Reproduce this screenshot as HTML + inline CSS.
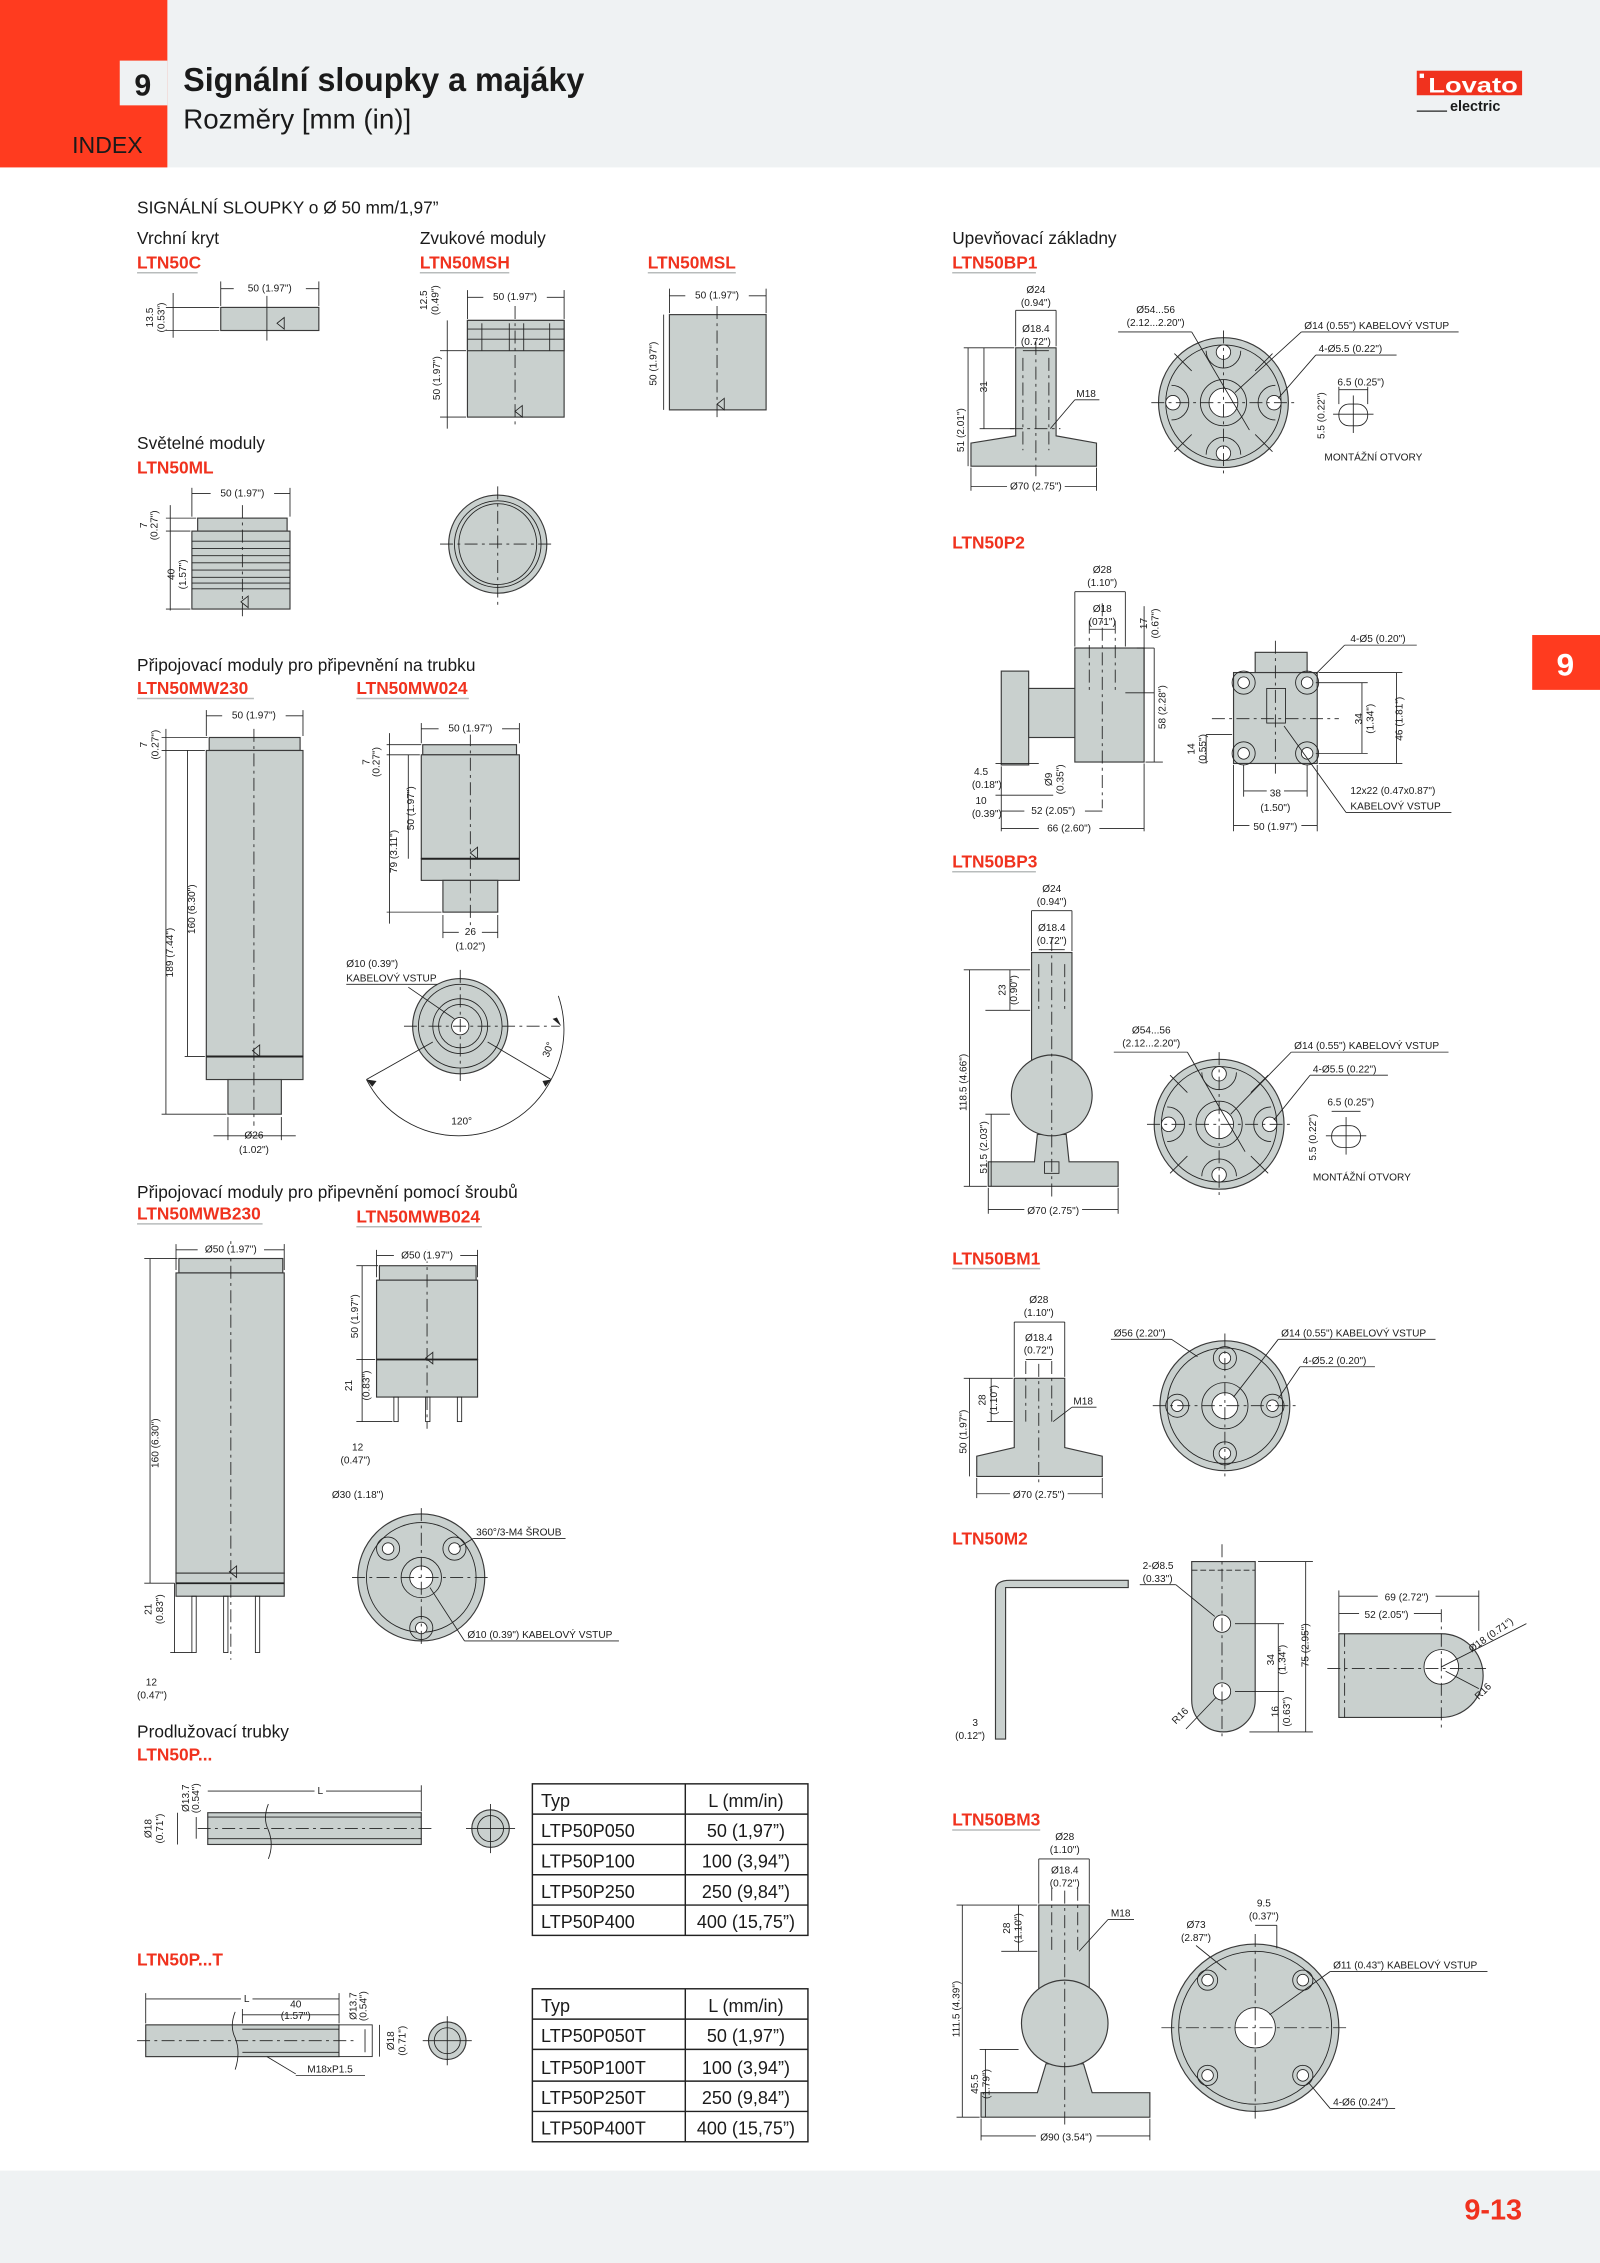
<!DOCTYPE html>
<html><head><meta charset="utf-8">
<style>
html,body{margin:0;padding:0;background:#fff;}
svg{display:block;}
text{font-family:"Liberation Sans Narrow","Liberation Sans",sans-serif;fill:#1a1a1a;}
.d{font-size:7px;}
.l{font-size:12px;}
.r{font-size:12px;font-weight:bold;fill:#f0321e;}
.g{fill:#c9d0ce;stroke:#3a3a3a;stroke-width:0.8;}
.s{stroke:#222;stroke-width:0.6;fill:none;}
.c{stroke:#222;stroke-width:0.6;fill:none;stroke-dasharray:9 3 2 3;}
.u{stroke:#b8bcbc;stroke-width:1;}
.t{font-size:12.5px;}
</style></head><body>
<svg width="1600" height="2263" viewBox="0 0 1109 1568" preserveAspectRatio="none" xmlns="http://www.w3.org/2000/svg">
<!-- header -->
<rect x="0" y="0" width="1109" height="116" fill="#eff2f3"/>
<rect x="0" y="0" width="116" height="116" fill="#ff3b1f"/>
<rect x="83" y="42" width="33" height="31" fill="#eff2f3"/>
<text x="99" y="66" text-anchor="middle" style="font-size:21px;font-weight:bold">9</text>
<text x="127" y="63" textLength="278" lengthAdjust="spacingAndGlyphs" style="font-size:23px;font-weight:bold">Signální sloupky a majáky</text>
<text x="127" y="89" textLength="158" lengthAdjust="spacingAndGlyphs" style="font-size:19px">Rozměry [mm (in)]</text>
<text x="50" y="106" style="font-size:16px">INDEX</text>
<rect x="982" y="49" width="73" height="17" fill="#f0321e"/>
<rect x="984" y="51" width="3" height="3" fill="#fff"/>
<text x="990" y="64" textLength="62" lengthAdjust="spacingAndGlyphs" style="font-size:15px;font-weight:bold;fill:#fff">Lovato</text>
<line x1="982" y1="77" x2="1003" y2="77" stroke="#222" stroke-width="0.8"/>
<text x="1005" y="77" style="font-size:10px;font-weight:bold">electric</text>
<!-- side tab -->
<rect x="1062" y="440" width="47" height="38" fill="#ff3b1f"/>
<text x="1085" y="468" text-anchor="middle" style="font-size:22px;font-weight:bold;fill:#fff">9</text>
<!-- footer -->
<rect x="0" y="1504" width="1109" height="64" fill="#eff2f3"/>
<text x="1055" y="1538" text-anchor="end" style="font-size:20px;font-weight:bold;fill:#f0321e">9-13</text>

<!-- LEFT COLUMN TITLES -->
<text class="l" x="95" y="148">SIGNÁLNÍ SLOUPKY o Ø 50 mm/1,97”</text>
<text class="l" x="95" y="169">Vrchní kryt</text>
<text class="r" x="95" y="186">LTN50C</text><line class="u" x1="95" y1="189" x2="137" y2="189"/>
<text class="l" x="291" y="169">Zvukové moduly</text>
<text class="r" x="291" y="186">LTN50MSH</text><line class="u" x1="291" y1="189" x2="353" y2="189"/>
<text class="r" x="449" y="186">LTN50MSL</text><line class="u" x1="449" y1="189" x2="510" y2="189"/>

<!-- LTN50C -->
<rect class="g" x="153" y="213" width="68" height="16"/>
<line class="s" x1="153" y1="200" x2="221" y2="200"/><line class="s" x1="153" y1="195" x2="153" y2="212"/><line class="s" x1="221" y1="195" x2="221" y2="212"/>
<rect x="162" y="196" width="50" height="8" fill="#fff"/><text class="d" x="187" y="202" text-anchor="middle">50 (1.97")</text>
<line class="s" x1="185" y1="205" x2="185" y2="236"/>
<line class="s" x1="120" y1="203" x2="120" y2="234"/><line class="s" x1="115" y1="213" x2="152" y2="213"/><line class="s" x1="115" y1="229" x2="152" y2="229"/>
<text class="d" transform="translate(106,220) rotate(-90)" text-anchor="middle">13.5</text>
<text class="d" transform="translate(114,220) rotate(-90)" text-anchor="middle">(0.53")</text>
<path class="s" d="M197 220 l-5 4 l5 4z"/>

<!-- LTN50MSH -->
<rect class="g" x="324" y="222" width="67" height="67"/>
<rect class="g" x="324" y="222" width="67" height="21"/>
<line class="s" x1="324" y1="228" x2="391" y2="228"/><line class="s" x1="324" y1="235" x2="391" y2="235"/>
<line class="s" x1="334" y1="224" x2="334" y2="243"/><line class="s" x1="353" y1="224" x2="353" y2="243"/><line class="s" x1="363" y1="224" x2="363" y2="243"/><line class="s" x1="381" y1="224" x2="381" y2="243"/>
<line class="c" x1="357" y1="212" x2="357" y2="297"/>
<line class="s" x1="324" y1="206" x2="391" y2="206"/><line class="s" x1="324" y1="201" x2="324" y2="221"/><line class="s" x1="391" y1="201" x2="391" y2="221"/>
<rect x="335" y="202" width="44" height="8" fill="#fff"/><text class="d" x="357" y="208" text-anchor="middle">50 (1.97")</text>
<line class="s" x1="310" y1="222" x2="310" y2="297"/><line class="s" x1="305" y1="243" x2="323" y2="243"/><line class="s" x1="305" y1="289" x2="323" y2="289"/>
<text class="d" transform="translate(296,208) rotate(-90)" text-anchor="middle">12.5</text><text class="d" transform="translate(304,208) rotate(-90)" text-anchor="middle">(0.49")</text>
<text class="d" transform="translate(305,262) rotate(-90)" text-anchor="middle">50 (1.97")</text>
<path class="s" d="M362 281 l-5 4 l5 4z"/>
<!-- LTN50MSL -->
<rect class="g" x="464" y="218" width="67" height="66"/>
<line class="c" x1="497" y1="212" x2="497" y2="292"/>
<line class="s" x1="464" y1="205" x2="531" y2="205"/><line class="s" x1="464" y1="200" x2="464" y2="217"/><line class="s" x1="531" y1="200" x2="531" y2="217"/>
<rect x="475" y="201" width="44" height="8" fill="#fff"/><text class="d" x="497" y="207" text-anchor="middle">50 (1.97")</text>
<line class="s" x1="460" y1="218" x2="460" y2="284"/>
<text class="d" transform="translate(455,252) rotate(-90)" text-anchor="middle">50 (1.97")</text>
<path class="s" d="M502 276 l-5 4 l5 4z"/>

<!-- LTN50ML -->
<text class="l" x="95" y="311">Světelné moduly</text>
<text class="r" x="95" y="328">LTN50ML</text>
<rect class="g" x="137" y="359" width="62" height="9"/>
<rect class="g" x="133" y="368" width="68" height="54"/>
<g class="s"><line x1="133" y1="375" x2="201" y2="375"/><line x1="133" y1="380" x2="201" y2="380"/><line x1="133" y1="385" x2="201" y2="385"/><line x1="133" y1="390" x2="201" y2="390"/><line x1="133" y1="395" x2="201" y2="395"/><line x1="133" y1="400" x2="201" y2="400"/><line x1="133" y1="404" x2="201" y2="404"/><line x1="133" y1="408" x2="201" y2="408"/></g>
<line class="c" x1="168" y1="350" x2="168" y2="430"/>
<line class="s" x1="133" y1="342" x2="201" y2="342"/><line class="s" x1="133" y1="338" x2="133" y2="358"/><line class="s" x1="201" y1="338" x2="201" y2="358"/>
<rect x="146" y="338" width="44" height="8" fill="#fff"/><text class="d" x="168" y="344" text-anchor="middle">50 (1.97")</text>
<line class="s" x1="118" y1="350" x2="118" y2="423"/><line class="s" x1="115" y1="359" x2="136" y2="359"/><line class="s" x1="115" y1="368" x2="132" y2="368"/><line class="s" x1="115" y1="422" x2="132" y2="422"/>
<text class="d" transform="translate(102,364) rotate(-90)" text-anchor="middle">7</text><text class="d" transform="translate(109,364) rotate(-90)" text-anchor="middle">(0.27")</text>
<text class="d" transform="translate(121,398) rotate(-90)" text-anchor="middle">40</text><text class="d" transform="translate(129,398) rotate(-90)" text-anchor="middle">(1.57")</text>
<path class="s" d="M172 413 l-5 4 l5 4z"/>
<ellipse class="g" cx="345" cy="377" rx="34" ry="34"/><ellipse class="s" cx="345" cy="377" rx="30" ry="30"/><ellipse class="s" cx="345" cy="377" rx="27" ry="28"/>
<line class="c" x1="345" y1="337" x2="345" y2="420"/><line class="c" x1="305" y1="377" x2="385" y2="377"/>

<!-- MW -->
<text class="l" x="95" y="465">Připojovací moduly pro připevnění na trubku</text>
<text class="r" x="95" y="481">LTN50MW230</text><line class="u" x1="95" y1="484" x2="176" y2="484"/>
<text class="r" x="247" y="481">LTN50MW024</text><line class="u" x1="247" y1="484" x2="325" y2="484"/>
<rect class="g" x="145" y="511" width="63" height="9"/>
<rect class="g" x="143" y="520" width="67" height="212"/>
<rect class="g" x="143" y="732" width="67" height="16"/>
<line x1="143" y1="732" x2="210" y2="732" stroke="#222" stroke-width="1.4"/>
<rect class="g" x="158" y="748" width="37" height="24"/>
<line class="c" x1="176" y1="505" x2="176" y2="780"/>
<path class="s" d="M180 724 l-5 4 l5 4z"/>
<line class="s" x1="143" y1="496" x2="210" y2="496"/><line class="s" x1="143" y1="492" x2="143" y2="510"/><line class="s" x1="210" y1="492" x2="210" y2="510"/>
<rect x="154" y="492" width="44" height="8" fill="#fff"/><text class="d" x="176" y="498" text-anchor="middle">50 (1.97")</text>
<line class="s" x1="115" y1="505" x2="115" y2="772"/><line class="s" x1="130" y1="520" x2="130" y2="732"/>
<line class="s" x1="112" y1="511" x2="144" y2="511"/><line class="s" x1="112" y1="520" x2="142" y2="520"/><line class="s" x1="112" y1="772" x2="157" y2="772"/><line class="s" x1="128" y1="732" x2="142" y2="732"/>
<text class="d" transform="translate(102,516) rotate(-90)" text-anchor="middle">7</text><text class="d" transform="translate(110,516) rotate(-90)" text-anchor="middle">(0.27")</text>
<text class="d" transform="translate(120,660) rotate(-90)" text-anchor="middle">189 (7.44")</text>
<text class="d" transform="translate(135,630) rotate(-90)" text-anchor="middle">160 (6.30")</text>
<line class="s" x1="158" y1="774" x2="158" y2="790"/><line class="s" x1="195" y1="774" x2="195" y2="790"/><line class="s" x1="148" y1="787" x2="205" y2="787"/>
<text class="d" x="176" y="789" text-anchor="middle">Ø26</text><text class="d" x="176" y="799" text-anchor="middle">(1.02")</text>

<rect class="g" x="293" y="516" width="65" height="7"/>
<rect class="g" x="292" y="523" width="68" height="72"/>
<rect class="g" x="292" y="595" width="68" height="15"/>
<line x1="292" y1="595" x2="360" y2="595" stroke="#222" stroke-width="1.4"/>
<rect class="g" x="307" y="610" width="38" height="22"/>
<line class="c" x1="326" y1="508" x2="326" y2="642"/>
<path class="s" d="M331 587 l-5 4 l5 4z"/>
<line class="s" x1="292" y1="505" x2="360" y2="505"/><line class="s" x1="292" y1="501" x2="292" y2="515"/><line class="s" x1="360" y1="501" x2="360" y2="515"/>
<rect x="304" y="501" width="44" height="8" fill="#fff"/><text class="d" x="326" y="507" text-anchor="middle">50 (1.97")</text>
<line class="s" x1="270" y1="508" x2="270" y2="640"/><line class="s" x1="283" y1="523" x2="283" y2="595"/>
<line class="s" x1="268" y1="516" x2="292" y2="516"/><line class="s" x1="268" y1="523" x2="291" y2="523"/><line class="s" x1="268" y1="632" x2="306" y2="632"/>
<text class="d" transform="translate(256,528) rotate(-90)" text-anchor="middle">7</text><text class="d" transform="translate(263,528) rotate(-90)" text-anchor="middle">(0.27")</text>
<text class="d" transform="translate(287,560) rotate(-90)" text-anchor="middle">50 (1.97")</text>
<text class="d" transform="translate(275,590) rotate(-90)" text-anchor="middle">79 (3.11")</text>
<line class="s" x1="307" y1="634" x2="307" y2="650"/><line class="s" x1="345" y1="634" x2="345" y2="650"/><line class="s" x1="307" y1="646" x2="345" y2="646"/>
<rect x="318" y="642" width="16" height="8" fill="#fff"/><text class="d" x="326" y="648" text-anchor="middle">26</text><text class="d" x="326" y="658" text-anchor="middle">(1.02")</text>
<circle class="g" cx="319" cy="711" r="33" stroke-width="1.5"/><circle class="s" cx="319" cy="711" r="29"/><circle class="s" cx="319" cy="711" r="19"/><circle class="s" cx="319" cy="711" r="15"/><circle cx="319" cy="711" r="6" fill="#fff" stroke="#222" stroke-width="0.6"/>
<line class="c" x1="319" y1="672" x2="319" y2="752"/><line class="c" x1="280" y1="711" x2="388" y2="711"/>
<path class="s" d="M254 748 A 72 72 0 0 0 382 748"/><path class="s" d="M382 748 A 72 72 0 0 0 387 690"/>
<path d="M254 748 l7 1 l-3 4z M382 748 l-6 1 l2 4z M389 711 l-3 -6 l-3 1z" fill="#222"/>
<line class="s" x1="300" y1="722" x2="254" y2="748"/><line class="s" x1="338" y1="722" x2="382" y2="748"/>
<text class="d" x="320" y="779" text-anchor="middle">120°</text>
<text class="d" transform="translate(382,728) rotate(-70)" text-anchor="middle">30°</text>
<text class="d" x="240" y="670">Ø10 (0.39")</text><text class="d" x="240" y="680">KABELOVÝ VSTUP</text>
<line class="s" x1="240" y1="682" x2="303" y2="682"/><line class="s" x1="283" y1="684" x2="315" y2="706"/>

<!-- MWB -->
<text class="l" x="95" y="830">Připojovací moduly pro připevnění pomocí šroubů</text>
<text class="r" x="95" y="845">LTN50MWB230</text><line class="u" x1="95" y1="848" x2="182" y2="848"/>
<text class="r" x="247" y="847">LTN50MWB024</text><line class="u" x1="247" y1="850" x2="334" y2="850"/>
<rect class="g" x="124" y="872" width="72" height="10"/>
<rect class="g" x="122" y="882" width="75" height="208"/>
<rect class="g" x="122" y="1090" width="75" height="16"/>
<line x1="122" y1="1097" x2="197" y2="1097" stroke="#222" stroke-width="1.2"/>
<g class="s"><rect x="133" y="1106" width="3" height="39"/><rect x="155" y="1106" width="3" height="39"/><rect x="177" y="1106" width="3" height="39"/></g>
<line class="c" x1="160" y1="860" x2="160" y2="1150"/>
<path class="s" d="M164 1085 l-5 4 l5 4z"/>
<line class="s" x1="122" y1="866" x2="197" y2="866"/><line class="s" x1="122" y1="862" x2="122" y2="880"/><line class="s" x1="197" y1="862" x2="197" y2="880"/>
<rect x="137" y="862" width="46" height="8" fill="#fff"/><text class="d" x="160" y="868" text-anchor="middle">Ø50 (1.97")</text>
<line class="s" x1="104" y1="872" x2="104" y2="1097"/><line class="s" x1="100" y1="872" x2="123" y2="872"/><line class="s" x1="100" y1="1097" x2="121" y2="1097"/><line class="s" x1="118" y1="1145" x2="133" y2="1145"/><line class="s" x1="121" y1="1097" x2="121" y2="1145"/>
<text class="d" transform="translate(110,1000) rotate(-90)" text-anchor="middle">160 (6.30")</text>
<text class="d" transform="translate(105,1115) rotate(-90)" text-anchor="middle">21</text><text class="d" transform="translate(113,1115) rotate(-90)" text-anchor="middle">(0.83")</text>
<text class="d" x="101" y="1168">12</text><text class="d" x="95" y="1177">(0.47")</text>

<rect class="g" x="263" y="877" width="67" height="10"/>
<rect class="g" x="261" y="887" width="70" height="55"/>
<rect class="g" x="261" y="942" width="70" height="26"/>
<line x1="261" y1="942" x2="331" y2="942" stroke="#222" stroke-width="1.2"/>
<g class="s"><rect x="273" y="968" width="3" height="17"/><rect x="295" y="968" width="3" height="17"/><rect x="317" y="968" width="3" height="17"/></g>
<line class="c" x1="296" y1="866" x2="296" y2="990"/>
<path class="s" d="M300 937 l-5 4 l5 4z"/>
<line class="s" x1="261" y1="870" x2="331" y2="870"/><line class="s" x1="261" y1="866" x2="261" y2="885"/><line class="s" x1="331" y1="866" x2="331" y2="885"/>
<rect x="273" y="866" width="46" height="8" fill="#fff"/><text class="d" x="296" y="872" text-anchor="middle">Ø50 (1.97")</text>
<line class="s" x1="251" y1="877" x2="251" y2="985"/><line class="s" x1="247" y1="877" x2="262" y2="877"/><line class="s" x1="247" y1="942" x2="260" y2="942"/><line class="s" x1="247" y1="985" x2="272" y2="985"/>
<text class="d" transform="translate(248,912) rotate(-90)" text-anchor="middle">50 (1.97")</text>
<text class="d" transform="translate(244,960) rotate(-90)" text-anchor="middle">21</text><text class="d" transform="translate(256,960) rotate(-90)" text-anchor="middle">(0.83")</text>
<text class="d" x="244" y="1005">12</text><text class="d" x="236" y="1014">(0.47")</text>
<circle class="g" cx="292" cy="1093" r="44"/><circle class="s" cx="292" cy="1093" r="38"/>
<circle class="s" cx="292" cy="1093" r="14"/><circle cx="292" cy="1093" r="8" fill="#fff" stroke="#222" stroke-width="0.6"/>
<g class="s"><circle cx="269" cy="1073" r="8"/><circle cx="315" cy="1073" r="8"/><circle cx="292" cy="1128" r="8"/></g>
<circle cx="269" cy="1073" r="4" fill="#fff" stroke="#222" stroke-width="0.6"/><circle cx="315" cy="1073" r="4" fill="#fff" stroke="#222" stroke-width="0.6"/><circle cx="292" cy="1128" r="4" fill="#fff" stroke="#222" stroke-width="0.6"/>
<line class="c" x1="292" y1="1045" x2="292" y2="1141"/><line class="c" x1="244" y1="1093" x2="340" y2="1093"/>
<text class="d" x="230" y="1038">Ø30 (1.18")</text>
<text class="d" x="330" y="1064">360°/3-M4 ŠROUB</text><line class="s" x1="328" y1="1066" x2="392" y2="1066"/><line class="s" x1="328" y1="1066" x2="318" y2="1072"/>
<text class="d" x="324" y="1135">Ø10 (0.39") KABELOVÝ VSTUP</text><line class="s" x1="322" y1="1137" x2="429" y2="1137"/><line class="s" x1="322" y1="1137" x2="298" y2="1100"/>

<!-- tubes -->
<text class="l" x="95" y="1204">Prodlužovací trubky</text>
<text class="r" x="95" y="1220">LTN50P...</text>
<rect class="g" x="144" y="1256" width="148" height="22"/>
<line class="s" x1="144" y1="1259" x2="292" y2="1259"/><line class="s" x1="144" y1="1274" x2="292" y2="1274"/>
<line class="c" x1="137" y1="1267" x2="300" y2="1267"/>
<path d="M186 1250 q-4 10 0 18 q4 10 0 20" stroke="#222" stroke-width="0.6" fill="none"/>
<line class="s" x1="144" y1="1241" x2="292" y2="1241"/><line class="s" x1="292" y1="1237" x2="292" y2="1255"/>
<rect x="218" y="1237" width="8" height="8" fill="#fff"/><text class="d" x="222" y="1243" text-anchor="middle">L</text>
<line class="s" x1="123" y1="1256" x2="123" y2="1278"/><line class="s" x1="136" y1="1259" x2="136" y2="1274"/>
<text class="d" transform="translate(105,1267) rotate(-90)" text-anchor="middle">Ø18</text><text class="d" transform="translate(113,1267) rotate(-90)" text-anchor="middle">(0.71")</text>
<text class="d" transform="translate(131,1246) rotate(-90)" text-anchor="middle">Ø13.7</text><text class="d" transform="translate(138,1246) rotate(-90)" text-anchor="middle">(0.54")</text>
<circle class="g" cx="340" cy="1267" r="13"/><circle class="s" cx="340" cy="1267" r="9"/>
<line class="s" x1="340" y1="1250" x2="340" y2="1284"/><line class="s" x1="323" y1="1267" x2="357" y2="1267"/>

<g>
<rect x="369" y="1236" width="191" height="105" fill="none" stroke="#222" stroke-width="1"/>
<line x1="475" y1="1236" x2="475" y2="1341" stroke="#222"/>
<line x1="369" y1="1257" x2="560" y2="1257" stroke="#222"/><line x1="369" y1="1278" x2="560" y2="1278" stroke="#222"/><line x1="369" y1="1299" x2="560" y2="1299" stroke="#222"/><line x1="369" y1="1320" x2="560" y2="1320" stroke="#222"/>
<text class="t" x="375" y="1252">Typ</text><text class="t" x="517" y="1252" text-anchor="middle">L (mm/in)</text>
<text class="t" x="375" y="1273">LTP50P050</text><text class="t" x="517" y="1273" text-anchor="middle">50 (1,97”)</text>
<text class="t" x="375" y="1294">LTP50P100</text><text class="t" x="517" y="1294" text-anchor="middle">100 (3,94”)</text>
<text class="t" x="375" y="1315">LTP50P250</text><text class="t" x="517" y="1315" text-anchor="middle">250 (9,84”)</text>
<text class="t" x="375" y="1336">LTP50P400</text><text class="t" x="517" y="1336" text-anchor="middle">400 (15,75”)</text>
</g>

<text class="r" x="95" y="1362">LTN50P...T</text>
<rect class="g" x="101" y="1403" width="134" height="22"/>
<rect x="235" y="1403" width="23" height="22" fill="#fff" stroke="#222" stroke-width="0.6"/>
<line class="s" x1="168" y1="1406" x2="235" y2="1406"/><line class="s" x1="168" y1="1422" x2="235" y2="1422"/>
<line class="c" x1="95" y1="1414" x2="245" y2="1414"/>
<path d="M163 1394 q-4 10 0 18 q4 10 0 22" stroke="#222" stroke-width="0.6" fill="none"/>
<line class="s" x1="101" y1="1385" x2="235" y2="1385"/><line class="s" x1="101" y1="1381" x2="101" y2="1402"/><line class="s" x1="235" y1="1381" x2="235" y2="1402"/>
<rect x="167" y="1381" width="8" height="8" fill="#fff"/><text class="d" x="171" y="1387" text-anchor="middle">L</text>
<line class="s" x1="168" y1="1396" x2="235" y2="1396"/><line class="s" x1="168" y1="1392" x2="168" y2="1402"/>
<text class="d" x="205" y="1391" text-anchor="middle">40</text><text class="d" x="205" y="1399" text-anchor="middle">(1.57")</text>
<line class="s" x1="253" y1="1406" x2="253" y2="1422"/><line class="s" x1="263" y1="1403" x2="263" y2="1425"/>
<text class="d" transform="translate(247,1390) rotate(-90)" text-anchor="middle">Ø13.7</text><text class="d" transform="translate(254,1390) rotate(-90)" text-anchor="middle">(0.54")</text>
<text class="d" transform="translate(273,1414) rotate(-90)" text-anchor="middle">Ø18</text><text class="d" transform="translate(281,1414) rotate(-90)" text-anchor="middle">(0.71")</text>
<line class="s" x1="185" y1="1425" x2="205" y2="1437"/><text class="d" x="213" y="1436">M18xP1.5</text><line class="s" x1="205" y1="1438" x2="253" y2="1438"/>
<circle class="g" cx="310" cy="1414" r="13"/><circle class="s" cx="310" cy="1414" r="9"/>
<line class="s" x1="310" y1="1397" x2="310" y2="1431"/><line class="s" x1="293" y1="1414" x2="327" y2="1414"/>
<g>
<rect x="369" y="1378" width="191" height="106" fill="none" stroke="#222" stroke-width="1"/>
<line x1="475" y1="1378" x2="475" y2="1484" stroke="#222"/>
<line x1="369" y1="1399" x2="560" y2="1399" stroke="#222"/><line x1="369" y1="1420" x2="560" y2="1420" stroke="#222"/><line x1="369" y1="1442" x2="560" y2="1442" stroke="#222"/><line x1="369" y1="1463" x2="560" y2="1463" stroke="#222"/>
<text class="t" x="375" y="1394">Typ</text><text class="t" x="517" y="1394" text-anchor="middle">L (mm/in)</text>
<text class="t" x="375" y="1415">LTP50P050T</text><text class="t" x="517" y="1415" text-anchor="middle">50 (1,97”)</text>
<text class="t" x="375" y="1437">LTP50P100T</text><text class="t" x="517" y="1437" text-anchor="middle">100 (3,94”)</text>
<text class="t" x="375" y="1458">LTP50P250T</text><text class="t" x="517" y="1458" text-anchor="middle">250 (9,84”)</text>
<text class="t" x="375" y="1479">LTP50P400T</text><text class="t" x="517" y="1479" text-anchor="middle">400 (15,75”)</text>
</g>

<!-- RIGHT COLUMN -->
<text class="l" x="660" y="169">Upevňovací základny</text>
<text class="r" x="660" y="186">LTN50BP1</text><line class="u" x1="660" y1="189" x2="718" y2="189"/>
<path class="g" d="M704 241 L732 241 L732 302 L760 307 L760 323 L673 323 L673 307 L704 302 Z"/>
<line class="c" x1="709" y1="248" x2="709" y2="312"/><line class="c" x1="727" y1="248" x2="727" y2="312"/>
<line class="c" x1="718" y1="237" x2="718" y2="330"/><line class="c" x1="700" y1="297" x2="735" y2="297"/>
<text class="d" x="718" y="203" text-anchor="middle">Ø24</text><text class="d" x="718" y="212" text-anchor="middle">(0.94")</text>
<line class="s" x1="704" y1="215" x2="732" y2="215"/><line class="s" x1="704" y1="215" x2="704" y2="240"/><line class="s" x1="732" y1="215" x2="732" y2="240"/>
<text class="d" x="718" y="230" text-anchor="middle">Ø18.4</text><text class="d" x="718" y="239" text-anchor="middle">(0.72")</text>
<line class="s" x1="709" y1="243" x2="727" y2="243"/>
<text class="d" x="746" y="275">M18</text><line class="s" x1="745" y1="277" x2="762" y2="277"/><line class="s" x1="745" y1="277" x2="728" y2="297"/>
<line class="s" x1="673" y1="337" x2="760" y2="337"/><line class="s" x1="673" y1="324" x2="673" y2="340"/><line class="s" x1="760" y1="324" x2="760" y2="340"/>
<rect x="698" y="333" width="40" height="8" fill="#fff"/><text class="d" x="718" y="339" text-anchor="middle">Ø70 (2.75")</text>
<line class="s" x1="671" y1="241" x2="671" y2="323"/><line class="s" x1="682" y1="241" x2="682" y2="297"/><line class="s" x1="668" y1="241" x2="703" y2="241"/><line class="s" x1="679" y1="297" x2="703" y2="297"/>
<text class="d" transform="translate(668,298) rotate(-90)" text-anchor="middle">51 (2.01")</text>
<text class="d" transform="translate(684,268) rotate(-90)" text-anchor="middle">31</text>
<circle class="g" cx="848" cy="279" r="45"/><circle class="s" cx="848" cy="279" r="40"/><circle class="s" cx="848" cy="279" r="16"/>
<circle cx="848" cy="279" r="10" fill="#fff" stroke="#222" stroke-width="0.6"/>
<g class="s"><line x1="826" y1="257" x2="814" y2="245"/><line x1="870" y1="257" x2="882" y2="245"/><line x1="826" y1="301" x2="814" y2="313"/><line x1="870" y1="301" x2="882" y2="313"/>
<path d="M836 243 a12 12 0 0 0 24 0"/><path d="M836 315 a12 12 0 0 1 24 0"/><path d="M812 267 a12 12 0 0 1 0 24"/><path d="M884 267 a12 12 0 0 0 0 24"/></g>
<g fill="#fff" stroke="#222" stroke-width="0.6"><circle cx="848" cy="244" r="5"/><circle cx="848" cy="314" r="5"/><circle cx="813" cy="279" r="5"/><circle cx="883" cy="279" r="5"/></g>
<line class="c" x1="848" y1="229" x2="848" y2="330"/><line class="c" x1="798" y1="279" x2="898" y2="279"/>
<text class="d" x="801" y="217" text-anchor="middle">Ø54...56</text><text class="d" x="801" y="226" text-anchor="middle">(2.12...2.20")</text>
<line class="s" x1="775" y1="230" x2="826" y2="230"/><line class="s" x1="826" y1="230" x2="866" y2="298"/>
<text class="d" x="904" y="228">Ø14 (0.55") KABELOVÝ VSTUP</text><line class="s" x1="902" y1="230" x2="1011" y2="230"/><line class="s" x1="902" y1="230" x2="856" y2="272"/>
<text class="d" x="914" y="244">4-Ø5.5 (0.22")</text><line class="s" x1="912" y1="246" x2="968" y2="246"/><line class="s" x1="912" y1="246" x2="886" y2="276"/>
<text class="d" x="927" y="267">6.5 (0.25")</text>
<rect class="s" x="928" y="280" width="20" height="15" rx="7"/><line class="s" x1="938" y1="274" x2="938" y2="300"/><line class="s" x1="924" y1="287" x2="952" y2="287"/>
<line class="s" x1="928" y1="270" x2="948" y2="270"/><line class="s" x1="928" y1="268" x2="928" y2="280"/><line class="s" x1="948" y1="268" x2="948" y2="280"/>
<text class="d" transform="translate(918,288) rotate(-90)" text-anchor="middle">5.5 (0.22")</text>
<text class="d" x="918" y="319">MONTÁŽNÍ OTVORY</text>

<!-- LTN50P2 -->
<text class="r" x="660" y="380">LTN50P2</text>
<rect class="g" x="694" y="465" width="19" height="65"/>
<rect class="g" x="713" y="477" width="42" height="34"/>
<rect class="g" x="745" y="449" width="48" height="79"/>
<line class="c" x1="764" y1="418" x2="764" y2="560"/>
<line class="c" x1="755" y1="430" x2="755" y2="480"/><line class="c" x1="773" y1="430" x2="773" y2="480"/>
<text class="d" x="764" y="397" text-anchor="middle">Ø28</text><text class="d" x="764" y="406" text-anchor="middle">(1.10")</text>
<line class="s" x1="745" y1="410" x2="780" y2="410"/><line class="s" x1="745" y1="410" x2="745" y2="448"/><line class="s" x1="780" y1="410" x2="780" y2="448"/>
<text class="d" x="764" y="424" text-anchor="middle">Ø18</text><text class="d" x="764" y="433" text-anchor="middle">(071")</text>
<line class="s" x1="755" y1="436" x2="773" y2="436"/>
<line class="s" x1="788" y1="449" x2="800" y2="449"/><line class="s" x1="793" y1="420" x2="793" y2="480"/><line class="s" x1="780" y1="480" x2="800" y2="480"/>
<text class="d" transform="translate(795,432) rotate(-90)" text-anchor="middle">17</text><text class="d" transform="translate(803,432) rotate(-90)" text-anchor="middle">(0.67")</text>
<line class="s" x1="800" y1="449" x2="800" y2="528"/><line class="s" x1="794" y1="528" x2="806" y2="528"/>
<text class="d" transform="translate(808,490) rotate(-90)" text-anchor="middle">58 (2.28")</text>
<text class="d" x="680" y="537" text-anchor="middle">4.5</text><text class="d" x="684" y="546" text-anchor="middle">(0.18")</text>
<text class="d" x="680" y="557" text-anchor="middle">10</text><text class="d" x="684" y="566" text-anchor="middle">(0.39")</text>
<line class="s" x1="690" y1="529" x2="720" y2="529"/><line class="s" x1="690" y1="551" x2="730" y2="551"/>
<text class="d" transform="translate(729,540) rotate(-90)" text-anchor="middle">Ø9</text><text class="d" transform="translate(737,540) rotate(-90)" text-anchor="middle">(0.35")</text>
<line class="s" x1="694" y1="562" x2="764" y2="562"/><rect x="710" y="558" width="42" height="8" fill="#fff"/><text class="d" x="730" y="564" text-anchor="middle">52 (2.05")</text>
<line class="s" x1="694" y1="574" x2="793" y2="574"/><rect x="720" y="570" width="42" height="8" fill="#fff"/><text class="d" x="741" y="576" text-anchor="middle">66 (2.60")</text>
<line class="s" x1="694" y1="531" x2="694" y2="576"/><line class="s" x1="793" y1="529" x2="793" y2="576"/>
<rect class="g" x="870" y="452" width="36" height="14"/>
<rect class="g" x="855" y="466" width="58" height="63"/>
<rect class="s" x="878" y="477" width="13" height="24"/>
<g class="s"><circle cx="862" cy="473" r="8"/><circle cx="906" cy="473" r="8"/><circle cx="862" cy="522" r="8"/><circle cx="906" cy="522" r="8"/></g>
<g fill="#fff" stroke="#222" stroke-width="0.6"><circle cx="862" cy="473" r="4"/><circle cx="906" cy="473" r="4"/><circle cx="862" cy="522" r="4"/><circle cx="906" cy="522" r="4"/></g>
<line class="c" x1="884" y1="444" x2="884" y2="536"/><line class="c" x1="840" y1="498" x2="928" y2="498"/>
<text class="d" x="936" y="445">4-Ø5 (0.20")</text><line class="s" x1="932" y1="447" x2="982" y2="447"/><line class="s" x1="932" y1="447" x2="912" y2="467"/>
<line class="s" x1="912" y1="473" x2="948" y2="473"/><line class="s" x1="912" y1="522" x2="948" y2="522"/><line class="s" x1="944" y1="473" x2="944" y2="522"/>
<text class="d" transform="translate(944,498) rotate(-90)" text-anchor="middle">34</text><text class="d" transform="translate(952,498) rotate(-90)" text-anchor="middle">(1.34")</text>
<line class="s" x1="914" y1="466" x2="972" y2="466"/><line class="s" x1="914" y1="529" x2="972" y2="529"/><line class="s" x1="968" y1="466" x2="968" y2="529"/>
<text class="d" transform="translate(972,498) rotate(-90)" text-anchor="middle">46 (1.81")</text>
<line class="s" x1="836" y1="509" x2="854" y2="509"/><line class="s" x1="836" y1="509" x2="836" y2="529"/>
<text class="d" transform="translate(828,519) rotate(-90)" text-anchor="middle">14</text><text class="d" transform="translate(836,519) rotate(-90)" text-anchor="middle">(0.55")</text>
<line class="s" x1="862" y1="530" x2="862" y2="552"/><line class="s" x1="906" y1="530" x2="906" y2="552"/><line class="s" x1="862" y1="548" x2="906" y2="548"/>
<rect x="878" y="544" width="12" height="8" fill="#fff"/><text class="d" x="884" y="552" text-anchor="middle">38</text><text class="d" x="884" y="562" text-anchor="middle">(1.50")</text>
<line class="s" x1="855" y1="530" x2="855" y2="576"/><line class="s" x1="913" y1="530" x2="913" y2="576"/><line class="s" x1="855" y1="572" x2="913" y2="572"/>
<rect x="866" y="568" width="36" height="8" fill="#fff"/><text class="d" x="884" y="575" text-anchor="middle">50 (1.97")</text>
<text class="d" x="936" y="550">12x22 (0.47x0.87")</text><text class="d" x="936" y="561">KABELOVÝ VSTUP</text>
<line class="s" x1="933" y1="563" x2="1006" y2="563"/><line class="s" x1="933" y1="563" x2="890" y2="503"/>

<!-- LTN50BP3 -->
<text class="r" x="660" y="601">LTN50BP3</text><line class="u" x1="660" y1="604" x2="718" y2="604"/>
<rect class="g" x="715" y="660" width="28" height="78"/>
<path class="g" d="M719 786 L739 786 L741 805 L775 805 L775 822 L685 822 L685 805 L717 805 Z"/>
<circle class="g" cx="729" cy="759" r="28"/>
<rect class="s" x="724" y="805" width="10" height="8"/>
<line class="c" x1="729" y1="650" x2="729" y2="830"/><line class="c" x1="720" y1="668" x2="720" y2="700"/><line class="c" x1="738" y1="668" x2="738" y2="700"/>
<text class="d" x="729" y="618" text-anchor="middle">Ø24</text><text class="d" x="729" y="627" text-anchor="middle">(0.94")</text>
<line class="s" x1="715" y1="631" x2="743" y2="631"/><line class="s" x1="715" y1="631" x2="715" y2="659"/><line class="s" x1="743" y1="631" x2="743" y2="659"/>
<text class="d" x="729" y="645" text-anchor="middle">Ø18.4</text><text class="d" x="729" y="654" text-anchor="middle">(0.72")</text>
<line class="s" x1="720" y1="658" x2="738" y2="658"/>
<line class="s" x1="668" y1="672" x2="714" y2="672"/><line class="s" x1="683" y1="700" x2="714" y2="700"/><line class="s" x1="668" y1="822" x2="684" y2="822"/><line class="s" x1="683" y1="772" x2="700" y2="772"/>
<line class="s" x1="672" y1="672" x2="672" y2="822"/><line class="s" x1="687" y1="772" x2="687" y2="822"/><line class="s" x1="700" y1="672" x2="700" y2="700"/>
<text class="d" transform="translate(697,686) rotate(-90)" text-anchor="middle">23</text><text class="d" transform="translate(705,686) rotate(-90)" text-anchor="middle">(0.90")</text>
<text class="d" transform="translate(670,750) rotate(-90)" text-anchor="middle">118.5 (4.66")</text>
<text class="d" transform="translate(684,795) rotate(-90)" text-anchor="middle">51.5 (2.03")</text>
<line class="s" x1="685" y1="838" x2="775" y2="838"/><line class="s" x1="685" y1="823" x2="685" y2="841"/><line class="s" x1="775" y1="823" x2="775" y2="841"/>
<rect x="710" y="834" width="40" height="8" fill="#fff"/><text class="d" x="730" y="841" text-anchor="middle">Ø70 (2.75")</text>
<circle class="g" cx="845" cy="779" r="45"/><circle class="s" cx="845" cy="779" r="40"/><circle class="s" cx="845" cy="779" r="16"/>
<circle cx="845" cy="779" r="10" fill="#fff" stroke="#222" stroke-width="0.6"/>
<g class="s"><line x1="823" y1="757" x2="811" y2="745"/><line x1="867" y1="757" x2="879" y2="745"/><line x1="823" y1="801" x2="811" y2="813"/><line x1="867" y1="801" x2="879" y2="813"/>
<path d="M833 743 a12 12 0 0 0 24 0"/><path d="M833 815 a12 12 0 0 1 24 0"/><path d="M809 767 a12 12 0 0 1 0 24"/><path d="M881 767 a12 12 0 0 0 0 24"/></g>
<g fill="#fff" stroke="#222" stroke-width="0.6"><circle cx="845" cy="744" r="5"/><circle cx="845" cy="814" r="5"/><circle cx="810" cy="779" r="5"/><circle cx="880" cy="779" r="5"/></g>
<line class="c" x1="845" y1="729" x2="845" y2="830"/><line class="c" x1="795" y1="779" x2="895" y2="779"/>
<text class="d" x="798" y="716" text-anchor="middle">Ø54...56</text><text class="d" x="798" y="725" text-anchor="middle">(2.12...2.20")</text>
<line class="s" x1="772" y1="729" x2="823" y2="729"/><line class="s" x1="823" y1="729" x2="863" y2="798"/>
<text class="d" x="897" y="727">Ø14 (0.55") KABELOVÝ VSTUP</text><line class="s" x1="895" y1="729" x2="1004" y2="729"/><line class="s" x1="895" y1="729" x2="853" y2="772"/>
<text class="d" x="910" y="743">4-Ø5.5 (0.22")</text><line class="s" x1="908" y1="745" x2="962" y2="745"/><line class="s" x1="908" y1="745" x2="883" y2="776"/>
<text class="d" x="920" y="766">6.5 (0.25")</text>
<rect class="s" x="923" y="780" width="20" height="15" rx="7"/><line class="s" x1="933" y1="774" x2="933" y2="800"/><line class="s" x1="919" y1="787" x2="947" y2="787"/>
<line class="s" x1="923" y1="770" x2="943" y2="770"/>
<text class="d" transform="translate(912,788) rotate(-90)" text-anchor="middle">5.5 (0.22")</text>
<text class="d" x="910" y="818">MONTÁŽNÍ OTVORY</text>

<!-- LTN50BM1 -->
<text class="r" x="660" y="876">LTN50BM1</text><line class="u" x1="660" y1="879" x2="721" y2="879"/>
<path class="g" d="M703 955 L738 955 L738 1003 L764 1009 L764 1023 L677 1023 L677 1009 L703 1003 Z"/>
<line class="c" x1="720" y1="945" x2="720" y2="1030"/><line class="c" x1="711" y1="943" x2="711" y2="985"/><line class="c" x1="729" y1="943" x2="729" y2="985"/>
<text class="d" x="720" y="903" text-anchor="middle">Ø28</text><text class="d" x="720" y="912" text-anchor="middle">(1.10")</text>
<line class="s" x1="703" y1="916" x2="738" y2="916"/><line class="s" x1="703" y1="916" x2="703" y2="954"/><line class="s" x1="738" y1="916" x2="738" y2="954"/>
<text class="d" x="720" y="929" text-anchor="middle">Ø18.4</text><text class="d" x="720" y="938" text-anchor="middle">(0.72")</text>
<line class="s" x1="711" y1="942" x2="729" y2="942"/>
<text class="d" x="744" y="973">M18</text><line class="s" x1="743" y1="975" x2="760" y2="975"/><line class="s" x1="743" y1="975" x2="730" y2="985"/>
<line class="s" x1="672" y1="955" x2="672" y2="1023"/><line class="s" x1="687" y1="955" x2="687" y2="985"/><line class="s" x1="668" y1="955" x2="702" y2="955"/><line class="s" x1="684" y1="985" x2="702" y2="985"/>
<text class="d" transform="translate(670,992) rotate(-90)" text-anchor="middle">50 (1.97")</text>
<text class="d" transform="translate(683,970) rotate(-90)" text-anchor="middle">28</text><text class="d" transform="translate(691,970) rotate(-90)" text-anchor="middle">(1.10")</text>
<line class="s" x1="677" y1="1035" x2="764" y2="1035"/><line class="s" x1="677" y1="1024" x2="677" y2="1038"/><line class="s" x1="764" y1="1024" x2="764" y2="1038"/>
<rect x="700" y="1031" width="40" height="8" fill="#fff"/><text class="d" x="720" y="1038" text-anchor="middle">Ø70 (2.75")</text>
<circle class="g" cx="849" cy="974" r="45"/><circle class="s" cx="849" cy="974" r="40"/><circle class="s" cx="849" cy="974" r="16"/>
<circle cx="849" cy="974" r="9" fill="#fff" stroke="#222" stroke-width="0.6"/>
<g class="s"><circle cx="849" cy="941" r="8"/><circle cx="849" cy="1007" r="8"/><circle cx="816" cy="974" r="8"/><circle cx="882" cy="974" r="8"/></g>
<g fill="#fff" stroke="#222" stroke-width="0.6"><circle cx="849" cy="941" r="4"/><circle cx="849" cy="1007" r="4"/><circle cx="816" cy="974" r="4"/><circle cx="882" cy="974" r="4"/></g>
<line class="c" x1="849" y1="924" x2="849" y2="1024"/><line class="c" x1="799" y1="974" x2="899" y2="974"/>
<text class="d" x="772" y="926">Ø56 (2.20")</text><line class="s" x1="770" y1="928" x2="812" y2="928"/><line class="s" x1="812" y1="928" x2="830" y2="940"/>
<text class="d" x="888" y="926">Ø14 (0.55") KABELOVÝ VSTUP</text><line class="s" x1="886" y1="928" x2="995" y2="928"/><line class="s" x1="886" y1="928" x2="855" y2="968"/>
<text class="d" x="903" y="945">4-Ø5.2 (0.20")</text><line class="s" x1="901" y1="947" x2="953" y2="947"/><line class="s" x1="901" y1="947" x2="886" y2="969"/>

<!-- LTN50M2 -->
<text class="r" x="660" y="1070">LTN50M2</text>
<path class="g" d="M700 1095 L782 1095 L782 1100 L697 1100 L697 1205 L690 1205 L690 1102 Q690 1095 700 1095 Z"/>
<text class="d" x="674" y="1196">3</text><text class="d" x="662" y="1205">(0.12")</text>
<path class="g" d="M826 1082 L870 1082 L870 1178 A22 22 0 0 1 826 1178 Z"/>
<line x1="826" y1="1088" x2="870" y2="1088" stroke="#222" stroke-width="0.6" stroke-dasharray="4 2"/>
<circle cx="847" cy="1125" r="6" fill="#fff" stroke="#222" stroke-width="0.6"/><circle cx="847" cy="1172" r="6" fill="#fff" stroke="#222" stroke-width="0.6"/>
<line class="c" x1="847" y1="1070" x2="847" y2="1205"/>
<text class="d" x="792" y="1087">2-Ø8.5</text><text class="d" x="792" y="1096">(0.33")</text><line class="s" x1="790" y1="1098" x2="815" y2="1098"/><line class="s" x1="815" y1="1098" x2="842" y2="1120"/>
<text class="d" transform="translate(815,1195) rotate(-45)">R16</text><line class="s" x1="822" y1="1198" x2="843" y2="1176"/>
<line class="s" x1="856" y1="1125" x2="890" y2="1125"/><line class="s" x1="856" y1="1172" x2="890" y2="1172"/><line class="s" x1="872" y1="1082" x2="910" y2="1082"/><line class="s" x1="866" y1="1200" x2="910" y2="1200"/>
<line class="s" x1="886" y1="1125" x2="886" y2="1200"/><line class="s" x1="905" y1="1082" x2="905" y2="1200"/>
<text class="d" transform="translate(883,1150) rotate(-90)" text-anchor="middle">34</text><text class="d" transform="translate(891,1150) rotate(-90)" text-anchor="middle">(1.34")</text>
<text class="d" transform="translate(886,1186) rotate(-90)" text-anchor="middle">16</text><text class="d" transform="translate(894,1186) rotate(-90)" text-anchor="middle">(0.63")</text>
<text class="d" transform="translate(907,1140) rotate(-90)" text-anchor="middle">75 (2.95")</text>
<path class="g" d="M928 1132 L999 1132 A29 29 0 0 1 999 1190 L928 1190 Z"/>
<circle cx="999" cy="1155" r="12" fill="#fff" stroke="#222" stroke-width="0.6"/>
<line class="c" x1="920" y1="1156" x2="1030" y2="1156"/><line class="c" x1="999" y1="1115" x2="999" y2="1200"/><line class="c" x1="932" y1="1132" x2="932" y2="1190"/>
<line class="s" x1="928" y1="1106" x2="1025" y2="1106"/><line class="s" x1="928" y1="1102" x2="928" y2="1131"/><line class="s" x1="1025" y1="1102" x2="1025" y2="1130"/>
<rect x="955" y="1102" width="40" height="8" fill="#fff"/><text class="d" x="975" y="1109" text-anchor="middle">69 (2.72")</text>
<line class="s" x1="928" y1="1118" x2="999" y2="1118"/><rect x="942" y="1114" width="38" height="8" fill="#fff"/><text class="d" x="961" y="1121" text-anchor="middle">52 (2.05")</text>
<text class="d" transform="translate(1020,1145) rotate(-35)">Ø18 (0.71")</text><line class="s" x1="999" y1="1155" x2="1058" y2="1125"/>
<text class="d" transform="translate(1025,1178) rotate(-45)">R16</text><line class="s" x1="1002" y1="1158" x2="1025" y2="1170"/>

<!-- LTN50BM3 -->
<text class="r" x="660" y="1265">LTN50BM3</text><line class="u" x1="660" y1="1268" x2="721" y2="1268"/>
<rect class="g" x="720" y="1320" width="35" height="60"/>
<path class="g" d="M725 1430 L751 1430 L757 1450 L797 1450 L797 1467 L680 1467 L680 1450 L719 1450 Z"/>
<circle class="g" cx="738" cy="1402" r="30"/>
<line class="c" x1="738" y1="1310" x2="738" y2="1475"/><line class="c" x1="729" y1="1308" x2="729" y2="1352"/><line class="c" x1="747" y1="1308" x2="747" y2="1352"/>
<text class="d" x="738" y="1275" text-anchor="middle">Ø28</text><text class="d" x="738" y="1284" text-anchor="middle">(1.10")</text>
<line class="s" x1="720" y1="1288" x2="755" y2="1288"/><line class="s" x1="720" y1="1288" x2="720" y2="1319"/><line class="s" x1="755" y1="1288" x2="755" y2="1319"/>
<text class="d" x="738" y="1298" text-anchor="middle">Ø18.4</text><text class="d" x="738" y="1307" text-anchor="middle">(0.72")</text>
<text class="d" x="770" y="1328">M18</text><line class="s" x1="768" y1="1330" x2="786" y2="1330"/><line class="s" x1="768" y1="1330" x2="748" y2="1352"/>
<line class="s" x1="663" y1="1320" x2="719" y2="1320"/><line class="s" x1="663" y1="1467" x2="679" y2="1467"/><line class="s" x1="679" y1="1420" x2="706" y2="1420"/><line class="s" x1="694" y1="1352" x2="719" y2="1352"/>
<line class="s" x1="667" y1="1320" x2="667" y2="1467"/><line class="s" x1="683" y1="1420" x2="683" y2="1467"/><line class="s" x1="706" y1="1320" x2="706" y2="1352"/>
<text class="d" transform="translate(700,1336) rotate(-90)" text-anchor="middle">28</text><text class="d" transform="translate(708,1336) rotate(-90)" text-anchor="middle">(1.10")</text>
<text class="d" transform="translate(665,1392) rotate(-90)" text-anchor="middle">111.5 (4.39")</text>
<text class="d" transform="translate(678,1444) rotate(-90)" text-anchor="middle">45.5</text><text class="d" transform="translate(686,1444) rotate(-90)" text-anchor="middle">(1.79")</text>
<line class="s" x1="680" y1="1480" x2="797" y2="1480"/><line class="s" x1="680" y1="1468" x2="680" y2="1483"/><line class="s" x1="797" y1="1468" x2="797" y2="1483"/>
<rect x="718" y="1476" width="42" height="8" fill="#fff"/><text class="d" x="739" y="1483" text-anchor="middle">Ø90 (3.54")</text>
<circle class="g" cx="870" cy="1405" r="58"/><circle class="s" cx="870" cy="1405" r="53"/>
<circle cx="870" cy="1405" r="14" fill="#fff" stroke="#222" stroke-width="0.6"/>
<g class="s"><circle cx="837" cy="1372" r="7"/><circle cx="903" cy="1372" r="7"/><circle cx="837" cy="1438" r="7"/><circle cx="903" cy="1438" r="7"/></g>
<g fill="#fff" stroke="#222" stroke-width="0.6"><circle cx="837" cy="1372" r="4"/><circle cx="903" cy="1372" r="4"/><circle cx="837" cy="1438" r="4"/><circle cx="903" cy="1438" r="4"/></g>
<line class="c" x1="870" y1="1340" x2="870" y2="1470"/><line class="c" x1="805" y1="1405" x2="935" y2="1405"/>
<text class="d" x="829" y="1336" text-anchor="middle">Ø73</text><text class="d" x="829" y="1345" text-anchor="middle">(2.87")</text><line class="s" x1="829" y1="1348" x2="850" y2="1365"/>
<text class="d" x="876" y="1321" text-anchor="middle">9.5</text><text class="d" x="876" y="1330" text-anchor="middle">(0.37")</text>
<line class="s" x1="870" y1="1334" x2="885" y2="1334"/><line class="s" x1="885" y1="1334" x2="885" y2="1350"/>
<text class="d" x="924" y="1364">Ø11 (0.43") KABELOVÝ VSTUP</text><line class="s" x1="922" y1="1366" x2="1031" y2="1366"/><line class="s" x1="922" y1="1366" x2="880" y2="1396"/>
<text class="d" x="924" y="1459">4-Ø6 (0.24")</text><line class="s" x1="922" y1="1461" x2="967" y2="1461"/><line class="s" x1="922" y1="1461" x2="907" y2="1443"/>
</svg>
</body></html>
